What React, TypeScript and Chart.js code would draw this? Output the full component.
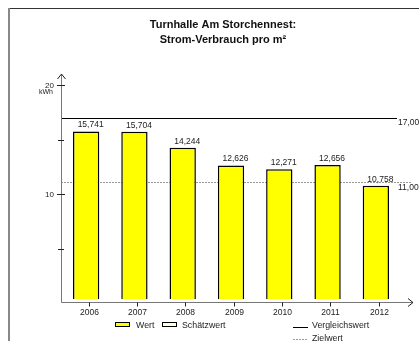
import React, { useEffect, useRef } from "react";
import { Chart, registerables } from "chart.js";

Chart.register(...registerables);

const categories = ["2006", "2007", "2008", "2009", "2010", "2011", "2012"];
const wert = [15.741, 15.704, 14.244, 12.626, 12.271, 12.656, 10.758];
const vergleichswert = 17;
const zielwert = 11;
const majorTicks = [10, 20];
const minorTicks = [5, 15];
const titleLines = ["Turnhalle Am Storchennest:", "Strom-Verbrauch pro m²"];
const unitLabel = "kWh";
const legendBars = ["Wert", "Schätzwert"];
const legendLines = ["Vergleichswert", "Zielwert"];

const FONT = "'Liberation Sans', Arial, sans-serif";
const fmt = (v: number, d: number) => v.toFixed(d).replace(".", ",");

const decorPlugin = {
  id: "decor",
  beforeDraw(chart: any) {
    const ctx = chart.ctx;
    ctx.save();
    ctx.fillStyle = "#ffffff";
    ctx.fillRect(0, 0, chart.width, chart.height);
    // frame
    ctx.strokeStyle = "#333";
    ctx.lineWidth = 1;
    ctx.beginPath();
    ctx.moveTo(8, 8.5);
    ctx.lineTo(chart.width, 8.5);
    ctx.stroke();
    ctx.strokeStyle = "#888";
    ctx.lineWidth = 2;
    ctx.beginPath();
    ctx.moveTo(9, 8);
    ctx.lineTo(9, chart.height - 2);
    ctx.stroke();

    // title
    ctx.fillStyle = "#111";
    ctx.font = `bold 11px ${FONT}`;
    ctx.textAlign = "center";
    ctx.textBaseline = "middle";
    ctx.fillText(titleLines[0], 223, 25);
    ctx.fillText(titleLines[1], 223, 40);

    const y = chart.scales.y;
    const area = chart.chartArea;

    // reference lines
    const yV = Math.round(y.getPixelForValue(vergleichswert)) + 0.5;
    ctx.strokeStyle = "#000";
    ctx.lineWidth = 1;
    ctx.beginPath();
    ctx.moveTo(area.left - 1, yV);
    ctx.lineTo(397, yV);
    ctx.stroke();
    const yZ = Math.round(y.getPixelForValue(zielwert)) - 0.5;
    ctx.strokeStyle = "#999";
    ctx.setLineDash([2, 1]);
    ctx.beginPath();
    ctx.moveTo(area.left - 1, yZ);
    ctx.lineTo(412, yZ);
    ctx.stroke();
    ctx.setLineDash([]);
    ctx.restore();
  },
  afterDraw(chart: any) {
    const ctx = chart.ctx;
    const x = chart.scales.x;
    const y = chart.scales.y;
    ctx.save();
    const axisX = 61.5;
    const axisY = 302.5;
    // axes
    ctx.strokeStyle = "#777";
    ctx.lineWidth = 1;
    ctx.beginPath();
    ctx.moveTo(axisX, axisY);
    ctx.lineTo(axisX, 74);
    ctx.moveTo(axisX, axisY);
    ctx.lineTo(413, axisY);
    ctx.stroke();
    ctx.strokeStyle = "#222";
    ctx.beginPath();
    ctx.moveTo(axisX - 4, 79);
    ctx.lineTo(axisX, 74);
    ctx.lineTo(axisX + 4, 79);
    ctx.moveTo(408, axisY - 4);
    ctx.lineTo(413, axisY);
    ctx.lineTo(408, axisY + 4);
    ctx.stroke();

    // y ticks
    ctx.strokeStyle = "#222";
    ctx.fillStyle = "#222";
    ctx.font = `8px ${FONT}`;
    ctx.textAlign = "right";
    ctx.textBaseline = "middle";
    majorTicks.forEach((t) => {
      const py = Math.round(y.getPixelForValue(t)) + 0.5;
      ctx.beginPath();
      ctx.moveTo(57, py);
      ctx.lineTo(65, py);
      ctx.stroke();
      ctx.fillText(String(t), 54, py);
    });
    minorTicks.forEach((t) => {
      const py = Math.round(y.getPixelForValue(t)) + 0.5;
      ctx.beginPath();
      ctx.moveTo(58, py);
      ctx.lineTo(64, py);
      ctx.stroke();
    });
    ctx.font = `7px ${FONT}`;
    ctx.fillText(unitLabel, 53, y.getPixelForValue(20) + 7);

    // x ticks and labels
    ctx.font = `8.5px ${FONT}`;
    ctx.textAlign = "center";
    ctx.textBaseline = "middle";
    categories.forEach((c, i) => {
      const px = Math.round(x.getPixelForValue(i) + 2.7) + 0.5;
      ctx.beginPath();
      ctx.moveTo(px, axisY);
      ctx.lineTo(px, axisY + 4);
      ctx.stroke();
      ctx.fillText(c, px, 313);
    });

    // value labels
    ctx.textBaseline = "alphabetic";
    wert.forEach((v, i) => {
      const px = x.getPixelForValue(i) + 4.5;
      const py = y.getPixelForValue(v) - 4;
      ctx.fillText(fmt(v, 3), px, py);
    });

    // reference labels
    ctx.textAlign = "left";
    ctx.textBaseline = "middle";
    ctx.fillText(fmt(vergleichswert, 2), 398, y.getPixelForValue(vergleichswert) + 5);
    ctx.fillText(fmt(zielwert, 2), 398, y.getPixelForValue(zielwert) + 5);

    // legend
    ctx.font = `8.8px ${FONT}`;
    ctx.lineWidth = 1;
    ctx.strokeStyle = "#000";
    ctx.fillStyle = "#ffff00";
    ctx.fillRect(115.5, 322.5, 14, 4);
    ctx.strokeRect(115.5, 322.5, 14, 4);
    ctx.fillStyle = "#ffffe0";
    ctx.fillRect(162.5, 322.5, 14, 4);
    ctx.strokeRect(162.5, 322.5, 14, 4);
    ctx.fillStyle = "#222";
    ctx.fillText(legendBars[0], 136, 326);
    ctx.fillText(legendBars[1], 182, 326);
    ctx.strokeStyle = "#000";
    ctx.beginPath();
    ctx.moveTo(293, 327.5);
    ctx.lineTo(308, 327.5);
    ctx.stroke();
    ctx.strokeStyle = "#999";
    ctx.setLineDash([2, 1]);
    ctx.beginPath();
    ctx.moveTo(293, 339.5);
    ctx.lineTo(308, 339.5);
    ctx.stroke();
    ctx.setLineDash([]);
    ctx.fillStyle = "#222";
    ctx.fillText(legendLines[0], 312, 326);
    ctx.fillText(legendLines[1], 312, 339);
    ctx.restore();
  },
};

export default function App() {
  const ref = useRef<HTMLCanvasElement | null>(null);
  useEffect(() => {
    if (!ref.current) return;
    const chart = new Chart(ref.current, {
      type: "bar",
      data: {
        labels: categories,
        datasets: [
          {
            label: legendBars[0],
            data: wert,
            backgroundColor: "#ffff00",
            borderColor: "#000000",
            borderWidth: 1.5,
            barPercentage: 0.545,
            categoryPercentage: 1,
            base: 0.35,
          } as any,
        ],
      },
      options: {
        animation: false,
        responsive: false,
        maintainAspectRatio: false,
        layout: { padding: { left: 62, right: 19, top: 85, bottom: 40 } },
        plugins: {
          legend: { display: false },
          title: { display: false },
          tooltip: { enabled: false },
        },
        scales: {
          x: { display: false, offset: true },
          y: { display: false, min: 0, max: 20 },
        },
      },
      plugins: [decorPlugin],
    });
    return () => chart.destroy();
  }, []);
  return (
    <div style={{ position: "absolute", left: 0, top: 0, width: 419, height: 343 }}>
      <canvas ref={ref} width={419} height={343} style={{ display: "block" }} />
    </div>
  );
}
